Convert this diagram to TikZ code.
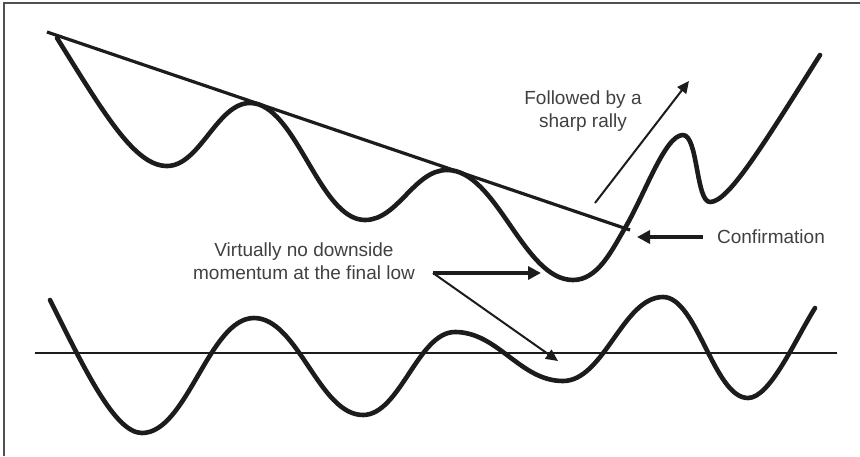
\documentclass[tikz,border=0pt]{standalone}
\usepackage{fontspec}
\setmainfont{Liberation Sans}
\usetikzlibrary{arrows.meta}
\definecolor{ink}{HTML}{1C1C1C}
\definecolor{txt}{HTML}{404040}
\definecolor{frame}{HTML}{505050}
\begin{document}
\begin{tikzpicture}[x=1pt,y=-1pt,
  wave/.style={draw=ink,line width=4.6pt,line cap=round,line join=round},
  trend/.style={draw=ink,line width=3.2pt},
  axisline/.style={draw=ink,line width=2pt},
  fatarrow/.style={draw=ink,line width=3.4pt,-{Triangle[length=13pt,width=13pt]}},
  thinarrow/.style={draw=ink,line width=2pt,-{Triangle[length=12pt,width=11pt]}},
  label/.style={text=txt,font=\fontsize{19}{22.5}\selectfont,align=center,inner sep=0pt}]
\useasboundingbox (0,0) rectangle (860,456);
% frame (top and left only)
\draw[frame,line width=2pt] (860,3) -- (4,3) -- (4,456);

% trend line
\coordinate (t1) at (47,32);
\coordinate (t2) at (630,230);
\draw[trend] (t1) -- (t2);

% price curve
\draw[wave] (57,38) .. controls (105,115) and (135,166) .. (167,166)
  .. controls (200,166) and (217,103) .. (250,103)
  .. controls (296,103) and (319,220) .. (365,220)
  .. controls (398,220) and (414,170) .. (447,170)
  .. controls (497,170) and (523,280) .. (573,280)
  .. controls (598,280) and (612,250) .. (625,228)
  .. controls (645,194) and (665,135) .. (683,135)
  .. controls (698,135) and (696,202) .. (710,202)
  .. controls (728,202) and (760,150) .. (820,55);

% momentum axis
\coordinate (a1) at (35,353);
\coordinate (a2) at (837,353);
\draw[axisline] (a1) -- (a2);

% momentum curve
\draw[wave] (50,300) .. controls (85,370) and (115,433) .. (142,433)
  .. controls (187,433) and (209,318) .. (254,318)
  .. controls (298,318) and (319,415) .. (363,415)
  .. controls (400,415) and (418,332) .. (455,332)
  .. controls (498,332) and (520,381) .. (563,381)
  .. controls (604,381) and (623,297) .. (663,297)
  .. controls (697,297) and (714,398) .. (748,398)
  .. controls (770,398) and (795,340) .. (815,308);

% labels
\node[label] (foll) at (583,111) {Followed by a\\sharp rally};
\node[label] (conf) at (771,237) {Confirmation};
\node[label] (virt) at (304,261) {Virtually no downside\\momentum at the final low};

% arrows
\coordinate (fs) at (595,203);
\coordinate (fe) at (689,81);
\draw[thinarrow] (fs) -- (fe);

\coordinate (cs) at (703,237);
\coordinate (ce) at (637,237);
\draw[fatarrow] (cs) -- (ce);

\coordinate (vs) at (433,273);
\coordinate (ve1) at (541,273);
\coordinate (ve2) at (558,361);
\draw[fatarrow] (vs) -- (ve1);
\draw[thinarrow] (vs) -- (ve2);
\end{tikzpicture}
\end{document}
